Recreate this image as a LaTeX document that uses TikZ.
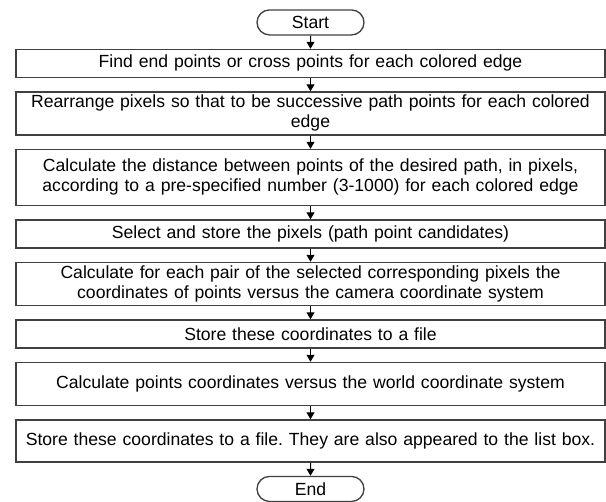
\documentclass[tikz,border=0pt]{standalone}
\usepackage{fontspec}
\setmainfont{Liberation Sans}
\usetikzlibrary{shapes.misc,arrows.meta}
\frenchspacing

\begin{document}
\begin{tikzpicture}[x=0.75pt,y=0.75pt,
        box/.style={draw=black!75,line width=1pt,minimum width=441.75pt,text width=436pt,align=center,inner sep=0pt,font=\fontsize{13.2pt}{15pt}\selectfont},
        term/.style={draw=black!75,line width=1pt,rounded rectangle,minimum width=80.25pt,minimum height=18.75pt,inner sep=0pt,font=\fontsize{13.2pt}{15pt}\selectfont},
        flow/.style={-{Triangle[length=5.25pt,width=6pt]},black,line width=0.75pt}]
        \useasboundingbox (0,0) rectangle (606,-502);
        \matrix[anchor=north,row sep=9.875pt,inner sep=0pt] at (310.5,-9)
        {
        \node[term](start){Start}; \\
        \node[box,minimum height=21pt](find){Find end points or cross points for each colored edge}; \\
        \node[box,minimum height=32.25pt](rearrange){Rearrange pixels so that to be successive path points for each colored\\ edge}; \\
        \node[box,minimum height=42pt](dist){Calculate the distance between points of the desired path, in pixels,\\ according to a pre-specified number (3-1000) for each colored edge}; \\
        \node[box,minimum height=21pt](select){Select and store the pixels (path point candidates)}; \\
        \node[box,minimum height=32.25pt](camera){Calculate for each pair of the selected corresponding pixels the\\ coordinates of points versus the camera coordinate system}; \\
        \node[box,minimum height=21pt](store){Store these coordinates to a file}; \\
        \node[box,minimum height=32.25pt](world){Calculate points coordinates versus the world coordinate system}; \\
        \node[box,minimum height=31.5pt](list){Store these coordinates to a file. They are also appeared to the list box.}; \\
        \node[term](end){End}; \\
        };

        \draw [flow] (start) -- (find) ;
        \draw [flow] (find) -- (rearrange) ;
        \draw [flow] (rearrange) -- (dist) ;
        \draw [flow] (dist) -- (select) ;
        \draw [flow] (select) -- (camera) ;
        \draw [flow] (camera) -- (store) ;
        \draw [flow] (store) -- (world) ;
        \draw [flow] (world) -- (list) ;
        \draw [flow] (list) -- (end) ;
        \end{tikzpicture}
\end{document}
